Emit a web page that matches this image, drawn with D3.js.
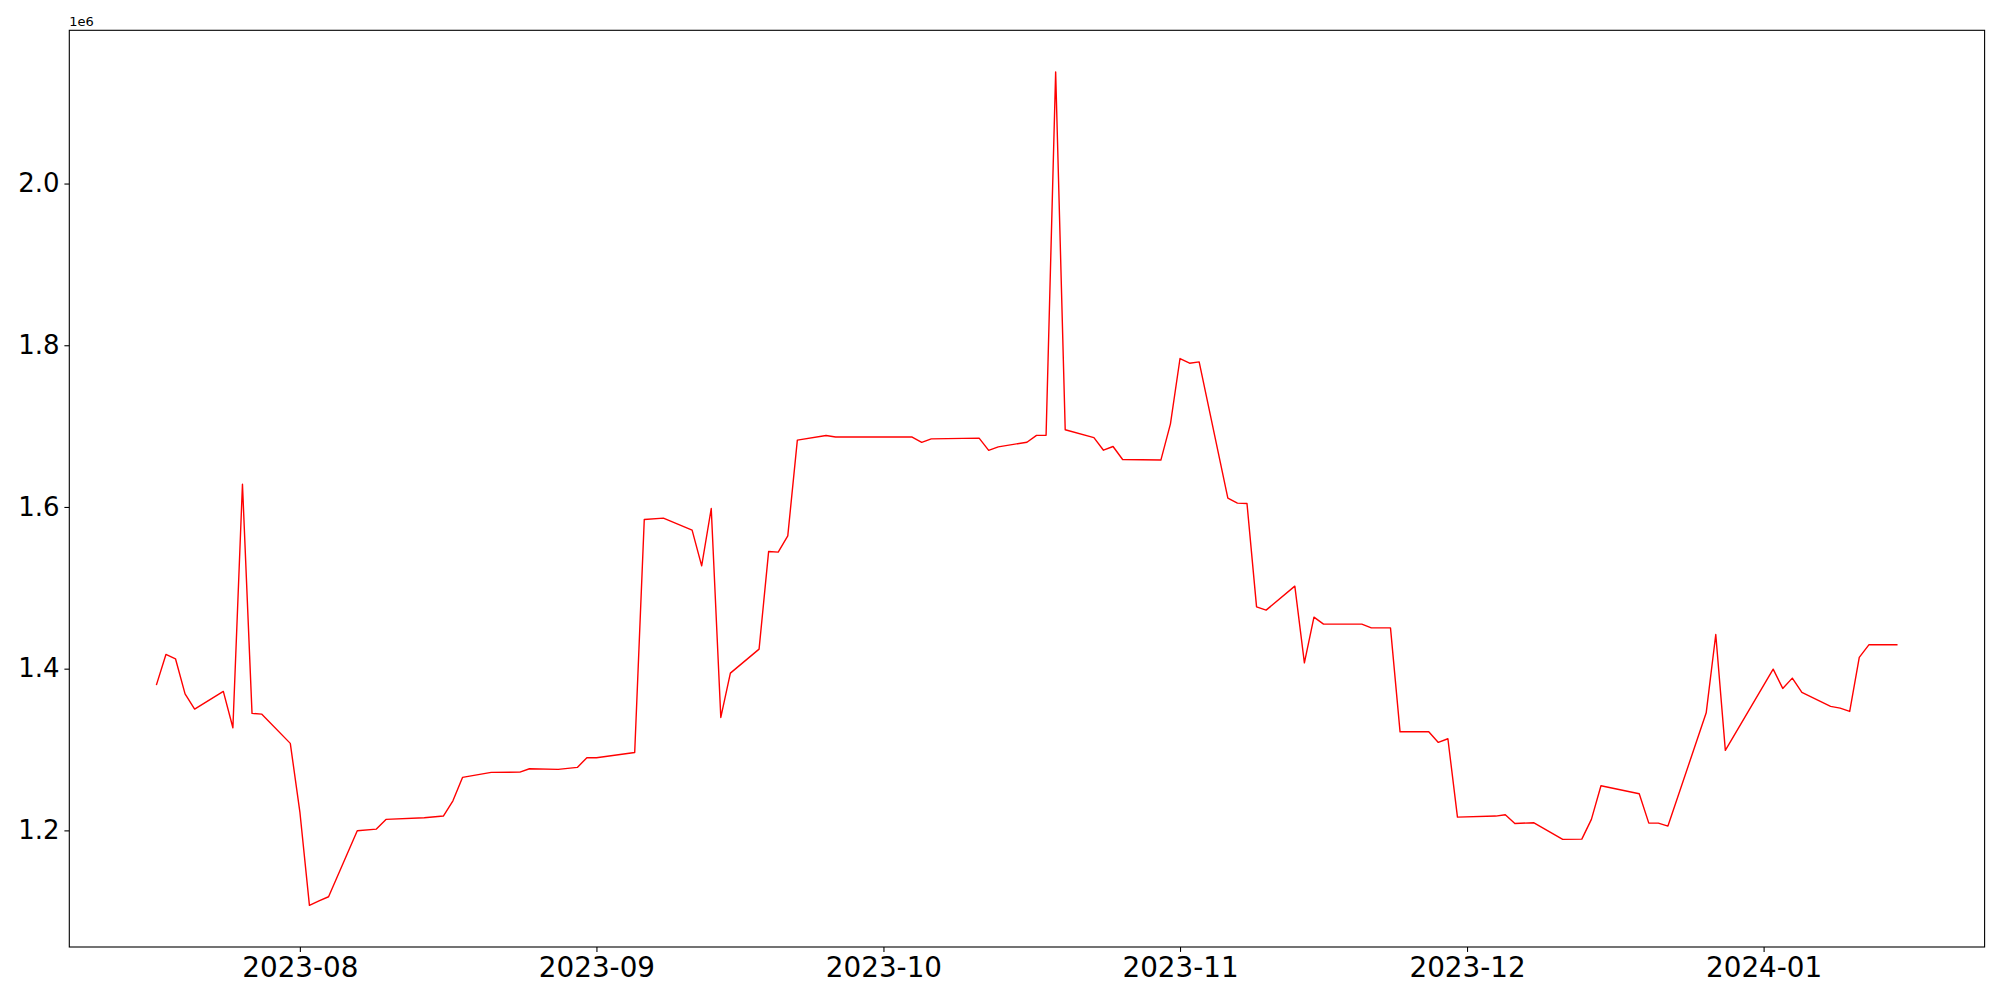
<!DOCTYPE html>
<html>
<head>
<meta charset="utf-8">
<script src="https://cdn.jsdelivr.net/npm/d3@7"></script>
<style>
  body { margin: 0; background: #fff; }
  text { font-family: "DejaVu Sans", sans-serif; }
</style>
</head>
<body>
<div id="graph1"></div>
<script>
// daily series
const dates = [
    "2023-07-17", "2023-07-18", "2023-07-19", "2023-07-20", "2023-07-21", "2023-07-24", "2023-07-25",
    "2023-07-26", "2023-07-27", "2023-07-28", "2023-07-31", "2023-08-01", "2023-08-02", "2023-08-03",
    "2023-08-04", "2023-08-07", "2023-08-09", "2023-08-10", "2023-08-14", "2023-08-16", "2023-08-17",
    "2023-08-18", "2023-08-21", "2023-08-24", "2023-08-25", "2023-08-28", "2023-08-30", "2023-08-31",
    "2023-09-01", "2023-09-05", "2023-09-06", "2023-09-08", "2023-09-11", "2023-09-12", "2023-09-13",
    "2023-09-14", "2023-09-15", "2023-09-18", "2023-09-19", "2023-09-20", "2023-09-21", "2023-09-22",
    "2023-09-25", "2023-09-26", "2023-10-04", "2023-10-05", "2023-10-06", "2023-10-11", "2023-10-12",
    "2023-10-13", "2023-10-16", "2023-10-17", "2023-10-18", "2023-10-19", "2023-10-20", "2023-10-23",
    "2023-10-24", "2023-10-25", "2023-10-26", "2023-10-30", "2023-10-31", "2023-11-01", "2023-11-02",
    "2023-11-03", "2023-11-06", "2023-11-07", "2023-11-08", "2023-11-09", "2023-11-10", "2023-11-13",
    "2023-11-14", "2023-11-15", "2023-11-16", "2023-11-20", "2023-11-21", "2023-11-23", "2023-11-24",
    "2023-11-27", "2023-11-28", "2023-11-29", "2023-11-30", "2023-12-04", "2023-12-05", "2023-12-06",
    "2023-12-08", "2023-12-11", "2023-12-13", "2023-12-14", "2023-12-15", "2023-12-19", "2023-12-20",
    "2023-12-21", "2023-12-22", "2023-12-26", "2023-12-27", "2023-12-28", "2024-01-02", "2024-01-03",
    "2024-01-04", "2024-01-05", "2024-01-08", "2024-01-09", "2024-01-10", "2024-01-11", "2024-01-12",
    "2024-01-15"
];
const values = [
    1379700, 1417600, 1412200, 1368900, 1350000, 1371900, 1326900,
    1628200, 1344700, 1343800, 1307600, 1223000, 1107300, 1112900,
    1117900, 1199500, 1201600, 1213600, 1215600, 1217700, 1236600,
    1265500, 1271700, 1272100, 1276200, 1275400, 1277900, 1289800,
    1289800, 1296400, 1584500, 1586200, 1571300, 1527200, 1598100,
    1339700, 1394500, 1424200, 1545000, 1544200, 1564300, 1682600,
    1688400, 1686500, 1686500, 1679900, 1684200, 1685200, 1670000,
    1674300, 1680100, 1688600, 1688600, 2138000, 1695500, 1685700,
    1670200, 1674800, 1658700, 1658000, 1702800, 1783600, 1777800,
    1779400, 1610900, 1604700, 1604300, 1476500, 1472400, 1502100,
    1407200, 1463700, 1455100, 1455100, 1450500, 1450500, 1321900,
    1321900, 1308800, 1313300, 1216400, 1217700, 1219300, 1208600,
    1209400, 1188900, 1189200, 1213600, 1255200, 1245300, 1209000,
    1209000, 1205300, 1345400, 1442300, 1298900, 1399400, 1375600,
    1388300, 1370600, 1353300, 1351200, 1347100, 1413900, 1429500,
    1429500
];
const xTicks = ["2023-08-01", "2023-09-01", "2023-10-01", "2023-11-01", "2023-12-01", "2024-01-01"];
const yTicks = [1200000, 1400000, 1600000, 1800000, 2000000];

const width = 2000, height = 1000;
const margin = {top: 30.3, right: 15.4, bottom: 53, left: 69.3};
const plotW = width - margin.left - margin.right;
const plotH = height - margin.top - margin.bottom;

const parse = d3.timeParse("%Y-%m-%d");
const data = dates.map((d, i) => ({date: parse(d), value: values[i]}));

let svg = d3.select("#graph1")
    .append("svg")
    .attr("width", width)
    .attr("height", height)
    .append("g")
    .attr("transform", `translate(${margin.left}, ${margin.top})`);

// matplotlib style 5% padding on both axes
let xExt = d3.extent(data, d => d.date);
let xPad = (xExt[1] - xExt[0]) * 0.05;
let x = d3.scaleTime()
    .domain([new Date(+xExt[0] - xPad), new Date(+xExt[1] + xPad)])
    .range([0, plotW]);

let yExt = d3.extent(data, d => d.value);
let yPad = (yExt[1] - yExt[0]) * 0.05;
let y = d3.scaleLinear()
    .domain([yExt[0] - yPad, yExt[1] + yPad])
    .range([plotH, 0]);

let line = d3.line()
    .x(d => x(d.date))
    .y(d => y(d.value));

svg.append("path")
    .datum(data)
    .attr("fill", "none")
    .attr("stroke", "#ff0000")
    .attr("stroke-width", 1.4)
    .attr("stroke-linejoin", "round")
    .attr("d", line);

let xAxis = svg.append("g")
    .attr("transform", `translate(0, ${plotH})`)
    .call(d3.axisBottom(x)
        .tickValues(xTicks.map(parse))
        .tickFormat(d3.timeFormat("%Y-%m"))
        .tickSize(4.9)
        .tickPadding(4.9));
xAxis.select(".domain").remove();
xAxis.selectAll("text").style("font-size", "27.8px").attr("fill", "#000");
xAxis.selectAll("line").attr("stroke", "#000").attr("stroke-width", 1.1);

let yAxis = svg.append("g")
    .call(d3.axisLeft(y)
        .tickValues(yTicks)
        .tickFormat(d => d3.format(".1f")(d / 1e6))
        .tickSize(4.9)
        .tickPadding(4.9));
yAxis.select(".domain").remove();
yAxis.selectAll("text").style("font-size", "26px").attr("fill", "#000");
yAxis.selectAll("line").attr("stroke", "#000").attr("stroke-width", 1.1);

// frame around the plot
svg.append("rect")
    .attr("x", 0)
    .attr("y", 0)
    .attr("width", plotW)
    .attr("height", plotH)
    .attr("fill", "none")
    .attr("stroke", "#000")
    .attr("stroke-width", 1.1);

// offset text
svg.append("text")
    .attr("x", 0)
    .attr("y", -4.5)
    .style("font-size", "13px")
    .text("1e6");
</script>
</body>
</html>
